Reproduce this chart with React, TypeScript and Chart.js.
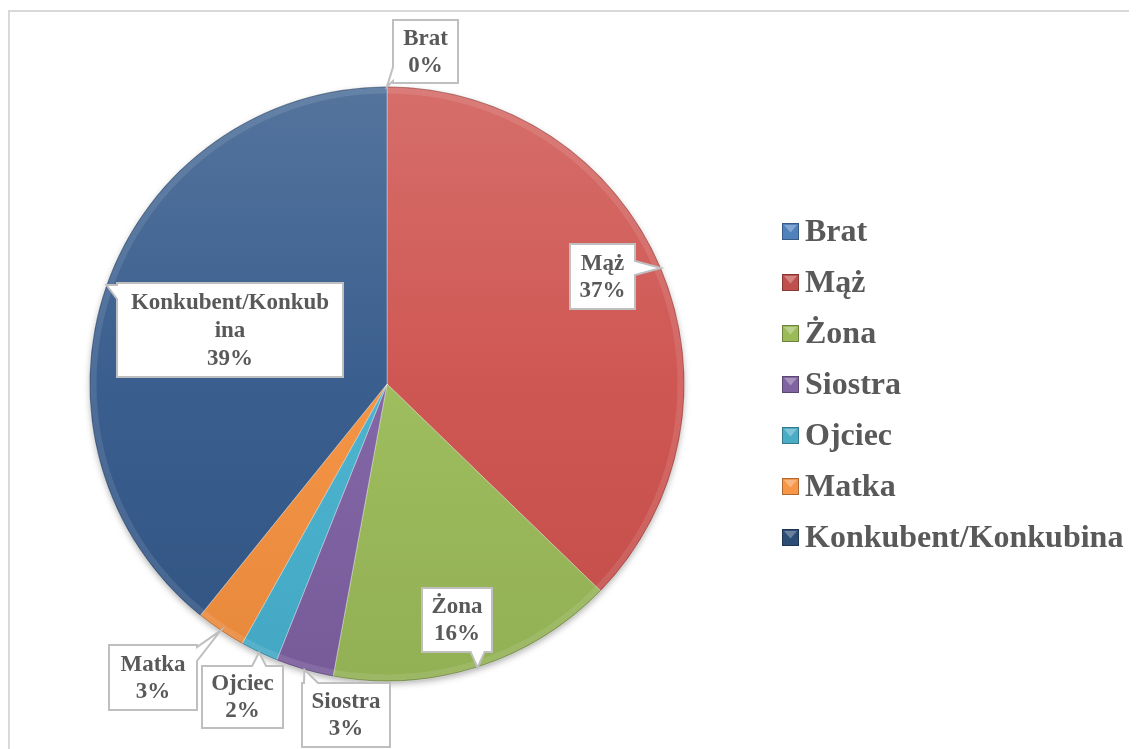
import React, { useEffect, useRef } from "react";
import { Chart, registerables } from "chart.js";

Chart.register(...registerables);

// ---- data ----
const categories = ["Brat", "Mąż", "Żona", "Siostra", "Ojciec", "Matka", "Konkubent/Konkubina"];
const shares = [0, 37.25, 15.65, 3.15, 2.05, 2.7, 39.2];
const sliceColors = ["#4F81BD", "#CE524E", "#9BBB59", "#7F61A3", "#47B2CF", "#F5913F", "#34598A"];
const legendColors = ["#4F81BD", "#C0504D", "#9BBB59", "#8064A2", "#4BACC6", "#F79646", "#2C4D75"];

// ---- layout (canvas px): callout boxes x, y, w, h per category ----
const labelBoxes = [
  [385, 12, 65, 63],
  [562, 236, 65, 65],
  [414, 580, 70, 64],
  [294, 675, 88, 64],
  [194, 658, 81, 62],
  [101, 637, 88, 65],
  [109, 275, 226, 94],
];

const W = 1129;
const H = 741;
const TEXT = "#595959";
const FONT = '"Liberation Serif", "Times New Roman", serif';

function hexToRgb(hex: string) {
  const h = hex.replace("#", "");
  return [parseInt(h.slice(0, 2), 16), parseInt(h.slice(2, 4), 16), parseInt(h.slice(4, 6), 16)];
}
function shade(hex: string, amt: number) {
  const [r, g, b] = hexToRgb(hex);
  const f = (c: number) =>
    Math.round(amt >= 0 ? c + (255 - c) * amt : c * (1 + amt));
  return `rgb(${f(r)},${f(g)},${f(b)})`;
}
function clamp(v: number, a: number, b: number) {
  return Math.max(a, Math.min(b, v));
}

function callout(ctx: CanvasRenderingContext2D, x: number, y: number, w: number, h: number, tx: number, ty: number) {
  const cx = x + w / 2;
  const cy = y + h / 2;
  const rx = (tx - cx) / (w / 2);
  const ry = (ty - cy) / (h / 2);
  let side: string;
  if (Math.abs(rx) > Math.abs(ry)) side = rx > 0 ? "right" : "left";
  else side = ry > 0 ? "bottom" : "top";
  const hw = 7;
  ctx.beginPath();
  ctx.moveTo(x, y);
  if (side === "top") {
    const b = clamp(tx, x + hw + 2, x + w - hw - 2);
    ctx.lineTo(b - hw, y);
    ctx.lineTo(tx, ty);
    ctx.lineTo(b + hw, y);
  }
  ctx.lineTo(x + w, y);
  if (side === "right") {
    const b = clamp(ty, y + hw + 2, y + h - hw - 2);
    ctx.lineTo(x + w, b - hw);
    ctx.lineTo(tx, ty);
    ctx.lineTo(x + w, b + hw);
  }
  ctx.lineTo(x + w, y + h);
  if (side === "bottom") {
    const b = clamp(tx, x + hw + 2, x + w - hw - 2);
    ctx.lineTo(b + hw, y + h);
    ctx.lineTo(tx, ty);
    ctx.lineTo(b - hw, y + h);
  }
  ctx.lineTo(x, y + h);
  if (side === "left") {
    const b = clamp(ty, y + hw + 2, y + h - hw - 2);
    ctx.lineTo(x, b + hw);
    ctx.lineTo(tx, ty);
    ctx.lineTo(x, b - hw);
  }
  ctx.closePath();
  ctx.fillStyle = "#FFFFFF";
  ctx.fill();
  ctx.lineWidth = 2;
  ctx.strokeStyle = "#BFBFBF";
  ctx.stroke();
}

function wrapText(ctx: CanvasRenderingContext2D, text: string, maxW: number) {
  if (ctx.measureText(text).width <= maxW) return [text];
  const lines: string[] = [];
  let cur = "";
  for (const ch of text) {
    if (ctx.measureText(cur + ch).width > maxW && cur.length) {
      lines.push(cur);
      cur = ch;
    } else cur += ch;
  }
  if (cur) lines.push(cur);
  return lines;
}

const framePlugin = {
  id: "frame",
  beforeDraw(chart: any) {
    const ctx = chart.ctx;
    ctx.save();
    ctx.fillStyle = "#FFFFFF";
    ctx.fillRect(0, 0, W, H);
    ctx.fillStyle = "#D9D9D9";
    ctx.fillRect(0, 2, W, 2);
    ctx.fillRect(0, 2, 2, H - 2);
    ctx.restore();
  },
  beforeDatasetsDraw(chart: any) {
    const arc = chart.getDatasetMeta(0).data[1];
    if (!arc) return;
    const { x, y, outerRadius } = arc.getProps(["x", "y", "outerRadius"], true);
    const ctx = chart.ctx;
    ctx.save();
    ctx.shadowColor = "rgba(0,0,0,0.35)";
    ctx.shadowBlur = 7;
    ctx.shadowOffsetY = 3;
    ctx.beginPath();
    ctx.arc(x, y, outerRadius - 1, 0, Math.PI * 2);
    ctx.fillStyle = "#888";
    ctx.fill();
    ctx.restore();
  },
  afterDatasetsDraw(chart: any) {
    const arc = chart.getDatasetMeta(0).data[1];
    if (!arc) return;
    const { x, y, outerRadius } = arc.getProps(["x", "y", "outerRadius"], true);
    const ctx = chart.ctx;
    ctx.save();
    ctx.beginPath();
    ctx.arc(x, y, outerRadius - 4, 0, Math.PI * 2);
    ctx.strokeStyle = "rgba(255,255,255,0.10)";
    ctx.lineWidth = 6;
    ctx.stroke();
    ctx.beginPath();
    ctx.arc(x, y, outerRadius - 0.5, 0, Math.PI * 2);
    ctx.strokeStyle = "rgba(0,0,0,0.22)";
    ctx.lineWidth = 1;
    ctx.stroke();
    ctx.restore();
  },
};

const labelPlugin = {
  id: "callouts",
  afterDraw(chart: any) {
    const ctx: CanvasRenderingContext2D = chart.ctx;
    const meta = chart.getDatasetMeta(0);
    const data: number[] = chart.data.datasets[0].data;
    const total = data.reduce((a, b) => a + b, 0);
    ctx.save();
    meta.data.forEach((arc: any, i: number) => {
      const p = arc.getProps(["x", "y", "startAngle", "endAngle", "outerRadius"], true);
      const mid = (p.startAngle + p.endAngle) / 2;
      const tx = p.x + Math.cos(mid) * p.outerRadius;
      const ty = p.y + Math.sin(mid) * p.outerRadius;
      const [bx, by, bw, bh] = labelBoxes[i];
      callout(ctx, bx, by, bw, bh, tx, ty);
      ctx.font = `bold 23px ${FONT}`;
      ctx.fillStyle = TEXT;
      ctx.textAlign = "center";
      ctx.textBaseline = "middle";
      const lines = wrapText(ctx, chart.data.labels[i], 202);
      lines.push(Math.round((data[i] / total) * 100) + "%");
      const lh = lines.length > 2 ? 28 : 27;
      const startY = by + bh / 2 - ((lines.length - 1) * lh) / 2;
      lines.forEach((t, k) => ctx.fillText(t, bx + bw / 2, startY + k * lh + 1));
    });
    ctx.restore();
  },
};

const legendPlugin = {
  id: "sideLegend",
  afterDraw(chart: any) {
    const ctx: CanvasRenderingContext2D = chart.ctx;
    const labels: string[] = chart.data.labels;
    ctx.save();
    labels.forEach((lab, i) => {
      const sx = 774;
      const sy = 215 + 51 * i;
      const s = 17;
      const base = legendColors[i];
      ctx.fillStyle = base;
      ctx.fillRect(sx, sy, s, s);
      ctx.beginPath();
      ctx.moveTo(sx + 2, sy + 2);
      ctx.lineTo(sx + s - 2, sy + 2);
      ctx.lineTo(sx + s / 2, sy + s / 2 + 1);
      ctx.closePath();
      ctx.fillStyle = shade(base, 0.3);
      ctx.fill();
      ctx.strokeStyle = shade(base, -0.3);
      ctx.lineWidth = 1;
      ctx.strokeRect(sx + 0.5, sy + 0.5, s - 1, s - 1);
      ctx.font = `bold 32px ${FONT}`;
      ctx.fillStyle = TEXT;
      ctx.textAlign = "left";
      ctx.textBaseline = "alphabetic";
      ctx.fillText(lab, sx + 23, sy + 18);
    });
    ctx.restore();
  },
};

export default function App() {
  const ref = useRef<HTMLCanvasElement | null>(null);
  useEffect(() => {
    if (!ref.current) return;
    const chart = new Chart(ref.current, {
      type: "pie",
      data: {
        labels: categories,
        datasets: [
          {
            data: shares,
            backgroundColor: (c: any) => {
              const base = sliceColors[c.dataIndex] || "#888";
              const area = c.chart.chartArea;
              if (!area) return base;
              const g = c.chart.ctx.createLinearGradient(0, area.top, 0, area.bottom);
              g.addColorStop(0, shade(base, 0.16));
              g.addColorStop(0.5, shade(base, 0.03));
              g.addColorStop(1, shade(base, -0.06));
              return g;
            },
            borderColor: "rgba(255,255,255,0.35)",
            borderWidth: 1,
          },
        ],
      },
      options: {
        responsive: false,
        animation: false,
        events: [],
        layout: { padding: { left: 81, top: 78, right: 452, bottom: 67 } },
        plugins: {
          legend: { display: false },
          tooltip: { enabled: false },
          title: { display: false },
        },
      },
      plugins: [framePlugin, labelPlugin, legendPlugin],
    });
    return () => chart.destroy();
  }, []);
  return (
    <div style={{ width: W, height: H }}>
      <canvas ref={ref} width={W} height={H} style={{ display: "block", width: W, height: H }} />
    </div>
  );
}
